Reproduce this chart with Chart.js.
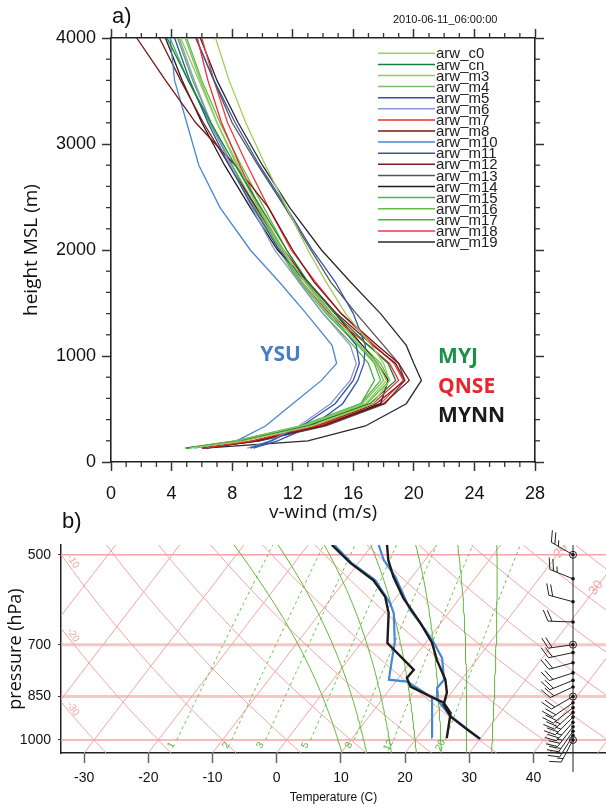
<!DOCTYPE html>
<html><head><meta charset="utf-8">
<script src="https://cdn.jsdelivr.net/npm/chart.js@4.4.1/dist/chart.umd.min.js"></script>
<style>
html,body{margin:0;padding:0;background:#fff;width:606px;height:810px;overflow:hidden}
#a{position:absolute;left:0;top:0}
#b{position:absolute;left:0;top:500px}
</style></head><body>
<canvas id="a" width="606" height="530"></canvas>
<canvas id="b" width="606" height="310"></canvas>
<script>
// ================= Panel a) data : v-wind profiles =================
const heights = [130, 200, 340, 550, 770, 930, 1100, 1400, 1700, 2000, 2400, 2800, 3200, 3600, 4000];
const v_c0  = [5.2, 8.8, 13.3, 17.3, 18.4, 18.0, 17.2, 15.5, 14.2, 13.0, 11.6, 10.2, 8.9, 7.8, 6.9];
const v_cn  = [5.0, 8.6, 13.0, 17.1, 18.8, 18.3, 17.0, 14.8, 13.0, 11.6, 9.9, 8.2, 6.6, 5.1, 3.7];
const v_m3  = [5.1, 8.4, 12.8, 16.8, 18.2, 17.6, 16.5, 14.5, 12.8, 11.4, 9.8, 8.4, 7.0, 5.8, 4.6];
const v_m4  = [5.0, 8.3, 12.6, 16.6, 18.0, 17.5, 16.4, 14.3, 12.6, 11.3, 9.7, 8.3, 7.0, 5.9, 4.9];
const v_m5  = [9.2, 10.6, 12.6, 14.8, 16.0, 16.4, 16.2, 14.5, 12.8, 11.1, 9.4, 7.8, 6.4, 5.2, 4.2];
const v_m6  = [9.0, 10.5, 12.4, 14.5, 15.8, 16.2, 15.8, 14.0, 12.4, 10.8, 9.3, 7.9, 6.6, 5.5, 4.5];
const v_m7  = [6.2, 9.3, 13.5, 17.3, 19.0, 18.4, 17.0, 14.4, 12.6, 11.3, 9.8, 8.5, 7.3, 6.4, 5.7];
const v_m8  = [6.3, 9.6, 14.0, 18.0, 19.7, 19.0, 17.6, 15.2, 13.4, 12.0, 10.4, 8.2, 5.6, 3.6, 1.7];
const v_m10 = [5.5, 8.3, 10.2, 12.0, 13.9, 14.9, 14.6, 12.9, 11.1, 9.2, 7.2, 5.8, 5.0, 4.2, 3.9];
const v_m11 = [9.4, 11.0, 13.3, 15.3, 16.3, 16.7, 16.8, 16.0, 14.8, 13.3, 11.6, 9.8, 8.2, 6.8, 5.6];
const v_m12 = [6.2, 9.4, 13.6, 17.5, 19.4, 18.8, 17.3, 14.9, 13.0, 11.4, 9.6, 7.8, 6.1, 4.6, 3.2];
const v_m13 = [6.1, 9.8, 14.2, 18.1, 19.4, 19.0, 18.0, 16.2, 14.5, 13.2, 11.5, 9.7, 8.0, 6.8, 5.6];
const v_m14 = [6.0, 9.8, 14.0, 17.8, 18.3, 17.6, 16.6, 14.8, 13.0, 11.0, 9.2, 7.5, 6.0, 4.7, 3.6];
const v_m15 = [4.9, 8.2, 12.5, 16.5, 17.8, 17.4, 16.3, 14.2, 12.5, 11.2, 9.6, 8.0, 6.5, 5.1, 3.9];
const v_m16 = [5.0, 8.5, 12.9, 16.9, 18.4, 17.8, 16.6, 14.6, 12.9, 11.6, 10.1, 8.6, 7.2, 6.0, 5.0];
const v_m17 = [4.9, 8.3, 12.7, 16.5, 17.4, 17.0, 16.0, 14.0, 12.4, 11.1, 9.5, 8.0, 6.6, 5.4, 4.4];
const v_m18 = [6.0, 9.5, 13.8, 17.8, 19.3, 18.7, 17.4, 15.2, 13.5, 11.9, 10.4, 9.0, 7.7, 6.8, 6.0];
const v_m19 = [6.2, 13.0, 16.8, 19.5, 20.5, 20.0, 19.5, 17.8, 15.8, 13.9, 11.8, 10.0, 8.4, 7.0, 5.9];

const members = ['arw_c0','arw_cn','arw_m3','arw_m4','arw_m5','arw_m6','arw_m7','arw_m8','arw_m10',
                 'arw_m11','arw_m12','arw_m13','arw_m14','arw_m15','arw_m16','arw_m17','arw_m18','arw_m19'];
const memberValues = [v_c0, v_cn, v_m3, v_m4, v_m5, v_m6, v_m7, v_m8, v_m10,
                      v_m11, v_m12, v_m13, v_m14, v_m15, v_m16, v_m17, v_m18, v_m19];
const memberColors = ['#9fcf57','#168043','#97cc4f','#74c167','#2d55a5','#8c96d0','#ee2b2f','#7a1416','#4a86d0',
                      '#3556a8','#7e1a1c','#555555','#1e1e1e','#56b347','#65bb46','#4eb23e','#ef3b3f','#2a2a2a'];
const xTicksA = [0, 4, 8, 12, 16, 20, 24, 28];
const yTicksA = [0, 1000, 2000, 3000, 4000];
const groupLabels = ['YSU', 'MYJ', 'QNSE', 'MYNN'];

// ================= Panel b) data : sounding =================
const pT_black  = [996, 962, 916, 876, 838, 798, 741, 695, 645, 588, 543, 510, 482];
const T_black   = [30.0, 26.9, 22.7, 20.2, 19.3, 17.5, 13.8, 11.0, 6.8, 1.2, -2.9, -5.7, -7.7];
const pTd_black = [993, 951, 904, 870, 860, 819, 793, 769, 696, 622, 585, 550, 516, 482];
const Td_black  = [24.7, 23.6, 22.3, 20.0, 18.6, 12.9, 11.3, 11.4, 4.1, 0.7, -1.8, -5.6, -11.2, -16.3];
const pT_blue   = [996, 914, 860, 823, 798, 736, 695, 662, 615, 543, 510, 482];
const T_blue    = [30.0, 22.6, 18.6, 17.2, 17.3, 14.4, 11.3, 8.4, 3.7, -2.6, -6.4, -9.0];
const pTd_blue  = [991, 854, 829, 804, 798, 741, 695, 622, 599, 550, 516, 482];
const Td_blue   = [22.4, 17.6, 14.8, 11.8, 8.7, 6.8, 5.2, 1.5, -0.3, -5.3, -11.0, -15.9];
// wind barbs
const windP   = [500, 547, 596, 643, 700, 721, 749, 778, 800, 820, 850, 870, 886, 902, 918, 936, 952, 968, 984, 1000];
const windDir = [300, 292, 285, 272, 262, 258, 255, 252, 248, 245, 240, 235, 232, 228, 225, 222, 218, 215, 212, 208];
const windSpd = [25, 25, 20, 20, 20, 20, 20, 20, 20, 20, 20, 20, 20, 25, 25, 25, 25, 20, 20, 15];
const mandP   = [500, 700, 850, 1000];
// skew-T background
const xTicksB   = [-30, -20, -10, 0, 10, 20, 30, 40];
const pTicksB   = [500, 700, 850, 1000];
const isoT      = [-50, -40, -30, -20, -10, 0, 10, 20, 30, 40, 50];
const dryTheta  = [-40, -30, -20, -10, 0, 10, 20, 30, 40, 50, 60, 70, 80, 90, 100, 110, 120, 130, 140, 150];
const moistThw  = [8, 12, 16, 20, 24, 28, 32];
const mixRatio  = [1, 2, 3, 5, 8, 12, 20];
const adiabatLabels = [-10, -20, -30];
const isothermLabels = [20, 30];

const P_BOT = 1050, P_TOP = 482, K_SKEW = 31.96;
function skewX(T, p) { return T + K_SKEW * Math.log(P_BOT / p); }
function dryT(th, p) { return (th + 273.15) * Math.pow(p / 1000, 0.2857) - 273.15; }
function tdFromW(w, p) { const e = w * p / (622 + w); const l = Math.log(e / 6.112); return 243.5 * l / (17.67 - l); }
function moistT(thw, p) {
  const Rd = 287.04, cp = 1005.7, Lv = 2.501e6, eps = 0.622;
  const f = (T, pp) => { const Tc = T - 273.15; const es = 6.112 * Math.exp(17.67 * Tc / (Tc + 243.5));
    const rs = eps * es / (pp - es); return (Rd * T + Lv * rs) / (pp * (cp + Lv * Lv * rs * eps / (Rd * T * T))); };
  let T = thw + 273.15, pp = 1000; const n = Math.max(1, Math.ceil(Math.abs(p - 1000) / 2)); const h = (p - 1000) / n;
  for (let i = 0; i < n; i++) { const k1 = f(T, pp), k2 = f(T + h / 2 * k1, pp + h / 2), k3 = f(T + h / 2 * k2, pp + h / 2), k4 = f(T + h * k3, pp + h);
    T += h / 6 * (k1 + 2 * k2 + 2 * k3 + k4); pp += h; }
  return T - 273.15;
}
const guideP = []; for (let p = P_BOT; p > P_TOP; p -= 10) guideP.push(p); guideP.push(P_TOP);

Chart.defaults.font.family = "'Liberation Sans', Arial, sans-serif";
Chart.defaults.color = '#111';

// ================= Panel a chart =================
function line(ctx, x1, y1, x2, y2) { ctx.beginPath(); ctx.moveTo(x1, y1); ctx.lineTo(x2, y2); ctx.stroke(); }
const panelA = {
  id: 'panelA',
  afterDraw(chart) {
    const { ctx, chartArea: ca, scales } = chart; const xs = scales.x, ys = scales.y;
    ctx.save();
    ctx.strokeStyle = '#333'; ctx.lineWidth = 1.3;
    for (let v = 0; v <= 28; v++) { if (v % 4 === 0) continue; const px = xs.getPixelForValue(v);
      line(ctx, px, ca.bottom, px, ca.bottom + 5); line(ctx, px, ca.top, px, ca.top - 5); }
    for (let h = 0; h <= 4000; h += 200) { if (h % 1000 === 0) continue; const py = ys.getPixelForValue(h);
      line(ctx, ca.left - 5, py, ca.left, py); line(ctx, ca.right, py, ca.right + 5, py); }
    // legend
    ctx.font = "15px 'Liberation Sans'"; ctx.textBaseline = 'middle'; ctx.textAlign = 'left';
    members.forEach((m, i) => { const y = 53.3 + i * 11.1; ctx.strokeStyle = memberColors[i]; ctx.lineWidth = 1.5;
      line(ctx, 378, y, 435, y); ctx.fillStyle = '#222'; ctx.fillText(m, 436, y + 1); });
    // group labels
    ctx.font = "bold 21px 'Open Sans'";
    const g = [[groupLabels[0], 11.2, 1010, '#4a7ec4', 'center'], [groupLabels[1], 21.6, 990, '#1a9048', 'left'],
               [groupLabels[2], 21.6, 708, '#e8262c', 'left'], [groupLabels[3], 21.6, 434, '#1a1a1a', 'left']];
    g.forEach(([t, v, h, c, al]) => { ctx.fillStyle = c; ctx.textAlign = al; ctx.fillText(t, xs.getPixelForValue(v), ys.getPixelForValue(h)); });
    ctx.fillStyle = '#111'; ctx.textAlign = 'left';
    ctx.font = "22px 'Liberation Sans'"; ctx.fillText('a)', 112, 17);
    ctx.font = "11px 'Liberation Sans'"; ctx.fillText('2010-06-11_06:00:00', 393, 20);
    ctx.restore();
  }
};
const axisA = (pos, extra) => Object.assign({
  type: 'linear', position: pos,
  grid: { drawOnChartArea: false, drawTicks: true, tickLength: 9, tickColor: '#333', tickWidth: 1.5 },
  border: { display: true, color: '#222', width: 1.6 }
}, extra);
new Chart(document.getElementById('a'), {
  type: 'scatter',
  data: { datasets: members.map((m, i) => ({ label: m, data: heights.map((h, j) => ({ x: memberValues[i][j], y: h })),
    showLine: true, borderColor: memberColors[i], borderWidth: 1.3, pointRadius: 0, xAxisID: 'x', yAxisID: 'y' })) },
  options: {
    responsive: false, animation: false, devicePixelRatio: 1, layout: { padding: 0 },
    plugins: { legend: { display: false }, tooltip: { enabled: false } },
    scales: {
      x: axisA('bottom', { min: 0, max: 28, afterBuildTicks: s => { s.ticks = xTicksA.map(v => ({ value: v })); },
        afterFit: s => { s.height = 68; },
        ticks: { font: { size: 18 }, color: '#111', padding: 12, maxRotation: 0, autoSkip: false, callback: v => String(v) },
        title: { display: true, text: 'v-wind (m/s)', font: { family: "'Open Sans'", size: 19 }, color: '#111', padding: { top: 0, bottom: 6 } } }),
      x2: axisA('top', { min: 0, max: 28, afterBuildTicks: s => { s.ticks = xTicksA.map(v => ({ value: v })); },
        afterFit: s => { s.height = 38; }, ticks: { display: false } }),
      y: axisA('left', { min: 0, max: 4000, afterBuildTicks: s => { s.ticks = yTicksA.map(v => ({ value: v })); },
        afterFit: s => { s.width = 111; },
        ticks: { font: { size: 18 }, color: '#111', padding: 6, callback: v => String(v) },
        title: { display: true, text: 'height MSL (m)', font: { family: "'Open Sans'", size: 19 }, color: '#111', padding: { top: 20, bottom: 0 } } }),
      y2: axisA('right', { min: 0, max: 4000, afterBuildTicks: s => { s.ticks = yTicksA.map(v => ({ value: v })); },
        afterFit: s => { s.width = 71; }, ticks: { display: false } })
    }
  },
  plugins: [panelA]
});

// ================= Panel b chart (skew-T) =================
const PINK = '#f2a3a3';
const ds = [];
pTicksB.forEach(p => { const thick = (p === 700 || p === 850);
  ds.push({ data: [{ x: -40, y: p }, { x: 60, y: p }], borderColor: thick ? 'rgba(245,160,160,0.6)' : PINK, borderWidth: thick ? 3 : 1.5, order: 20 }); });
isoT.forEach(T => ds.push({ data: [{ x: skewX(T, P_BOT), y: P_BOT }, { x: skewX(T, P_TOP), y: P_TOP }], borderColor: PINK, borderWidth: 1, order: 20 }));
dryTheta.forEach(th => ds.push({ data: guideP.map(p => ({ x: skewX(dryT(th, p), p), y: p })), borderColor: PINK, borderWidth: 1, order: 20 }));
moistThw.forEach(t => ds.push({ data: guideP.map(p => ({ x: skewX(moistT(t, p), p), y: p })), borderColor: '#62b63c', borderWidth: 1, order: 15 }));
mixRatio.forEach(w => ds.push({ data: guideP.filter(p => p <= 1000).map(p => ({ x: skewX(tdFromW(w, p), p), y: p })), borderColor: '#6cc04a', borderWidth: 1, borderDash: [3, 3], order: 15 }));
const sound = (P, T, col, w, ord) => ({ data: P.map((p, i) => ({ x: skewX(T[i], p), y: p })), borderColor: col, borderWidth: w, order: ord });
ds.push(sound(pTd_blue, Td_blue, '#4189d6', 2.2, 2));
ds.push(sound(pT_blue, T_blue, '#4189d6', 2.2, 2));
ds.push(sound(pTd_black, Td_black, '#1c1c1c', 2.4, 1));
ds.push(sound(pT_black, T_black, '#1c1c1c', 2.4, 1));
ds.forEach(d => { d.showLine = true; d.pointRadius = 0; d.tension = 0; d.fill = false; });

const BARB_X = 46.15;
function drawBarb(ctx, x, y, dirDeg, spd) {
  const d = dirDeg * Math.PI / 180; const s = [Math.sin(d), -Math.cos(d)]; const perp = [-s[1], s[0]];
  const L = 25, FL = 12, a = 65 * Math.PI / 180, gap = 4;
  const ex = x + s[0] * L, ey = y + s[1] * L;
  const f = [Math.cos(a) * s[0] + Math.sin(a) * perp[0], Math.cos(a) * s[1] + Math.sin(a) * perp[1]];
  ctx.beginPath(); ctx.moveTo(x, y); ctx.lineTo(ex, ey);
  let rem = Math.round(spd / 5) * 5, k = 0;
  while (rem >= 10) { const bx = ex - s[0] * gap * k, by = ey - s[1] * gap * k; ctx.moveTo(bx, by); ctx.lineTo(bx + f[0] * FL, by + f[1] * FL); rem -= 10; k++; }
  if (rem >= 5) { if (k === 0) k = 1; const bx = ex - s[0] * gap * k, by = ey - s[1] * gap * k; ctx.moveTo(bx, by); ctx.lineTo(bx + f[0] * FL / 2, by + f[1] * FL / 2); }
  ctx.stroke();
}
const panelB = {
  id: 'panelB',
  afterDatasetsDraw(chart) {
    const { ctx, chartArea: ca, scales } = chart; const xs = scales.x, ys = scales.y;
    ctx.save();
    ctx.beginPath(); ctx.rect(ca.left, ca.top, ca.right - ca.left, ca.bottom - ca.top + 30); ctx.clip();
    // mixing-ratio labels
    ctx.fillStyle = '#5cb340'; ctx.font = "10px 'Liberation Sans'"; ctx.textAlign = 'center'; ctx.textBaseline = 'middle';
    mixRatio.forEach(w => { const p = 1020; const px = xs.getPixelForValue(skewX(tdFromW(w, p), p)) - 3, py = ys.getPixelForValue(p);
      ctx.save(); ctx.translate(px, py); ctx.rotate(-1.1); ctx.fillText(String(w), 0, 0); ctx.restore(); });
    // adiabat labels where each dry adiabat meets the left edge
    ctx.fillStyle = PINK;
    adiabatLabels.forEach(th => { let lo = P_TOP, hi = P_BOT; const xmin = xs.min;
      for (let i = 0; i < 40; i++) { const m = (lo + hi) / 2; if (skewX(dryT(th, m), m) < xmin) lo = m; else hi = m; }
      const py = ys.getPixelForValue((lo + hi) / 2); ctx.save(); ctx.translate(ca.left + 12, py + 7); ctx.rotate(1.0); ctx.fillText(String(th), 0, 0); ctx.restore(); });
    // isotherm labels on right
    ctx.font = "13px 'Liberation Sans'";
    const isoLabP = [492, 566];
    isothermLabels.forEach((T, i) => { const p = isoLabP[i]; const px = xs.getPixelForValue(skewX(T, p)), py = ys.getPixelForValue(p);
      ctx.save(); ctx.translate(px, py); ctx.rotate(-0.92); ctx.fillText(String(T), 0, 0); ctx.restore(); });
    ctx.restore();
    // wind barbs
    ctx.save();
    const sx = xs.getPixelForValue(BARB_X);
    ctx.strokeStyle = '#222'; ctx.fillStyle = '#111'; ctx.lineWidth = 1;
    line(ctx, sx, ca.top, sx, ca.bottom + 19);
    windP.forEach((p, i) => drawBarb(ctx, sx, ys.getPixelForValue(p), windDir[i], windSpd[i]));
    windP.forEach(p => { ctx.beginPath(); ctx.arc(sx, ys.getPixelForValue(p), 1.8, 0, 2 * Math.PI); ctx.fill(); });
    mandP.forEach(p => { ctx.beginPath(); ctx.arc(sx, ys.getPixelForValue(p), 3.5, 0, 2 * Math.PI); ctx.stroke(); });
    ctx.restore();
    ctx.save(); ctx.fillStyle = '#111'; ctx.font = "22px 'Liberation Sans'"; ctx.textBaseline = 'middle';
    ctx.fillText('b)', 62, 22); ctx.restore();
  }
};
new Chart(document.getElementById('b'), {
  type: 'scatter',
  data: { datasets: ds },
  options: {
    responsive: false, animation: false, devicePixelRatio: 1,
    layout: { padding: { top: 45, left: 0, right: 0, bottom: 0 } },
    plugins: { legend: { display: false }, tooltip: { enabled: false } },
    scales: {
      x: { type: 'linear', position: 'bottom', min: -33.6, max: 51.29,
        afterBuildTicks: s => { s.ticks = xTicksB.map(v => ({ value: v })); }, afterFit: s => { s.height = 57; },
        grid: { drawOnChartArea: false, tickLength: 10, tickColor: '#666', tickWidth: 1.5 },
        border: { display: true, color: '#222', width: 1.5 },
        ticks: { font: { size: 14 }, color: '#111', padding: 7, maxRotation: 0, autoSkip: false, callback: v => String(v) },
        title: { display: true, text: 'Temperature (C)', font: { size: 12 }, color: '#111', padding: { top: 0, bottom: 5 } } },
      y: { type: 'logarithmic', position: 'left', reverse: true, min: P_TOP, max: P_BOT,
        afterBuildTicks: s => { s.ticks = pTicksB.map(v => ({ value: v })); }, afterFit: s => { s.width = 61; },
        grid: { drawOnChartArea: false, tickLength: 3, tickColor: '#333' },
        border: { display: true, color: '#222', width: 1.5 },
        ticks: { font: { size: 14 }, color: '#111', padding: 7, callback: v => String(v) },
        title: { display: true, text: 'pressure (hPa)', font: { family: "'Open Sans'", size: 18 }, color: '#111', padding: { top: 5, bottom: 0 } } }
    }
  },
  plugins: [panelB]
});
</script></body></html>
